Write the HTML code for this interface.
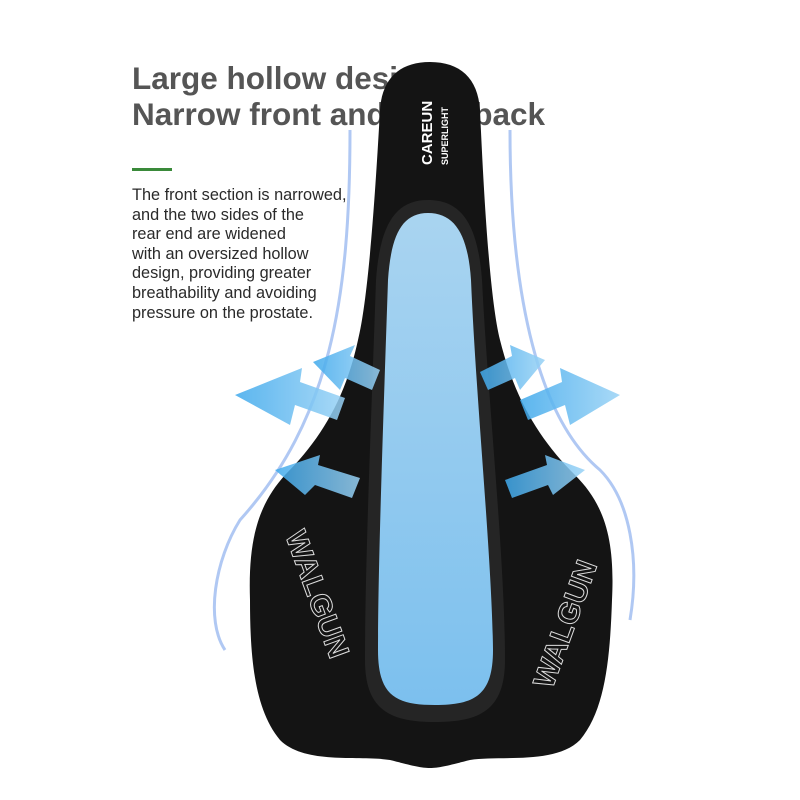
<!DOCTYPE html>
<html><head><meta charset="utf-8"><style>
html,body{margin:0;padding:0;background:#fff;}
#c{position:relative;width:800px;height:800px;overflow:hidden;background:#fff;font-family:"Liberation Sans",sans-serif;}
.t{position:absolute;left:132px;color:#555;font-weight:bold;font-size:31.5px;white-space:nowrap;}
.p{position:absolute;left:132px;top:186px;font-size:16.3px;line-height:19.6px;color:#2a2a2a;}
svg{position:absolute;left:0;top:0;}
</style></head><body><div id="c">
<div class="t" style="top:60px">Large hollow design</div>
<div class="t" style="top:96px">Narrow front and wide back</div>
<div style="position:absolute;left:132px;top:168px;width:40px;height:3px;background:#3a8a3a"></div>
<div class="p">The front section is narrowed,<br>and the two sides of the<br>rear end are widened<br>with an oversized hollow<br>design, providing greater<br>breathability and avoiding<br>pressure on the prostate.</div>
<svg width="800" height="800" viewBox="0 0 800 800">
<defs>
<linearGradient id="b" x1="0" y1="0" x2="0" y2="1"><stop offset="0" stop-color="#a9d4f0"/><stop offset="1" stop-color="#7cc0ee"/></linearGradient>
<linearGradient id="a" x1="0" y1="0" x2="1" y2="0"><stop offset="0" stop-color="#3fa9ec"/><stop offset="1" stop-color="#9ad3f6"/></linearGradient>
</defs>
<path d="M350 130 C350 300 330 420 240 520 C215 560 205 620 225 650" stroke="#8fb0ee" stroke-width="3" fill="none" opacity=".7"/>
<path d="M510 130 C510 300 540 420 600 470 C630 500 640 560 630 620" stroke="#8fb0ee" stroke-width="3" fill="none" opacity=".7"/>
<path d="M430 62 C460 62 478 78 480 110 C484 200 490 300 500 340 C515 400 540 440 575 475 C605 505 615 540 612 600 C610 660 605 710 580 740 C555 765 500 755 470 760 C450 765 440 768 430 768 C420 768 410 765 390 760 C360 755 305 765 280 740 C255 710 250 660 250 600 C248 540 258 505 285 475 C320 440 345 400 358 340 C368 300 375 200 380 110 C382 78 400 62 430 62Z" fill="#141414"/>
<path d="M428 200 C462 200 478 225 482 280 C488 400 505 560 505 660 C505 710 480 722 435 722 C390 722 365 710 365 660 C365 560 372 400 376 280 C380 225 395 200 428 200Z" fill="#252525"/>
<path d="M428 213 C455 213 468 235 471 280 C476 400 492 560 493 650 C493 695 475 705 435 705 C395 705 378 695 378 650 C378 560 384 400 388 280 C391 235 402 213 428 213Z" fill="url(#b)"/>
<g fill="url(#a)" opacity=".85">
<polygon points="313,362 355,345 350,356 380,370 372,390 345,378 340,390"/>
<polygon points="235,395 302,368 300,382 345,398 337,420 295,405 290,425"/>
<polygon points="275,470 320,455 318,465 360,478 352,498 315,485 305,495"/>
<polygon points="545,360 510,345 512,356 480,372 488,390 515,378 520,390"/>
<polygon points="620,395 560,368 562,382 520,400 528,420 565,405 570,425"/>
<polygon points="585,470 545,455 547,465 505,480 512,498 548,485 553,495"/>
</g>
<text x="0" y="0" transform="translate(432,165) rotate(-90)" fill="#fff" font-weight="bold" font-size="15">CAREUN</text>
<text x="0" y="0" transform="translate(448,165) rotate(-90)" fill="#fff" font-weight="bold" font-size="9">SUPERLIGHT</text>
<text transform="translate(285,535) rotate(70)" fill="none" stroke="#ddd" stroke-width="1" font-weight="bold" font-size="30">WALGUN</text>
<text transform="translate(552,690) rotate(-70)" fill="none" stroke="#ddd" stroke-width="1" font-weight="bold" font-size="30">WALGUN</text>
</svg>
</div></body></html>
